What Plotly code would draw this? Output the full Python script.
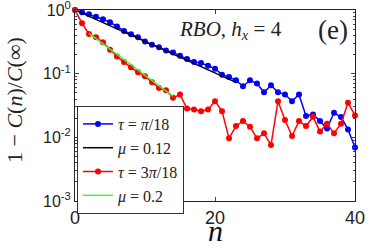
import plotly.graph_objects as go

n = list(range(41))
blue = [1.0, 0.92, 0.855, 0.787, 0.715, 0.642, 0.549, 0.47, 0.417, 0.374,
        0.32, 0.284, 0.261, 0.232, 0.216, 0.191, 0.17, 0.152, 0.147, 0.133,
        0.12, 0.0965, 0.0887, 0.0787, 0.0634, 0.0787, 0.0698, 0.051, 0.0657, 0.051,
        0.047, 0.037, 0.047, 0.0216, 0.0229, 0.018, 0.0137, 0.0243, 0.0208, 0.0133,
        0.0069]
red = [1.0, 0.619, 0.422, 0.374, 0.312, 0.237, 0.187, 0.152, 0.126, 0.105,
       0.0908, 0.0733, 0.0597, 0.055, 0.0417, 0.047, 0.0284, 0.0274, 0.0258, 0.0274,
       0.037, 0.0258, 0.00964, 0.015, 0.018, 0.0147, 0.00964, 0.01155, 0.0076, 0.037,
       0.0187, 0.0105, 0.018, 0.015, 0.021, 0.0123, 0.0164, 0.01155, 0.0164, 0.0348,
       0.0221]
fit1_n = [0, 23]
fit1_v = [1.0, 0.073]
fit2_n = [2, 14]
fit2_v = [0.43, 0.0442]

tick_vals = [1, 0.1, 0.01, 0.001]
tick_text = ["10<sup>0</sup>", "10<sup>-1</sup>", "10<sup>-2</sup>", "10<sup>-3</sup>"]

serif = "Liberation Serif"
sans = "Liberation Sans"

L, R, T, B = 75, 19, 10, 48
W, H = 374, 249
pw, ph = W - L - R, H - T - B


def px_x(p):
    return (p - L) / pw


def px_y(p):
    return (H - B - p) / ph


fig = go.Figure()
fig.add_trace(go.Scatter(x=n, y=blue, mode="lines+markers",
                         line=dict(color="#0000ff", width=1.5),
                         marker=dict(color="#0000ff", size=6),
                         name="<i>τ</i> = <i>π</i>/18", cliponaxis=False))
fig.add_trace(go.Scatter(x=fit1_n, y=fit1_v, mode="lines",
                         line=dict(color="black", width=1.5),
                         name="<i>μ</i> = 0.12"))
fig.add_trace(go.Scatter(x=n, y=red, mode="lines+markers",
                         line=dict(color="#ff0000", width=1.5),
                         marker=dict(color="#ff0000", size=6),
                         name="<i>τ</i> = 3<i>π</i>/18", cliponaxis=False))
fig.add_trace(go.Scatter(x=fit2_n, y=fit2_v, mode="lines",
                         line=dict(color="#33ff33", width=1.5),
                         name="<i>μ</i> = 0.2"))

fig.update_layout(
    width=W, height=H,
    margin=dict(l=L, r=R, t=T, b=B, autoexpand=False),
    paper_bgcolor="white", plot_bgcolor="white",
    showlegend=True,
    legend=dict(x=px_x(77), y=px_y(106), xanchor="left", yanchor="top",
                bgcolor="white", bordercolor="#333", borderwidth=1,
                font=dict(family=serif, size=16, color="#222"),
                tracegroupgap=0, itemwidth=30),
    xaxis=dict(range=[0, 40], tickvals=[0, 20, 40], ticks="inside", ticklen=4,
               showline=True, linecolor="#222", linewidth=1, mirror="allticks",
               showgrid=False, zeroline=False, automargin=False,
               tickfont=dict(family=sans, size=18, color="#222")),
    yaxis=dict(type="log", range=[-3.0005, 0.0005], tickmode="array",
               tickvals=tick_vals, ticktext=tick_text, ticklabeloverflow="allow",
               ticks="inside", ticklen=4,
               minor=dict(ticks="inside", ticklen=2, showgrid=False,
                          tickvals=[k * 10 ** e for e in (-3, -2, -1) for k in range(2, 10)]),
               showline=True, linecolor="#222", linewidth=1, mirror="allticks",
               showgrid=False, zeroline=False, automargin=False,
               tickfont=dict(family=sans, size=16, color="#222")),
    annotations=[
        dict(text="<i>RBO</i>, <i>h<sub>x</sub></i> = 4", x=px_x(230), y=px_y(30),
             xref="paper", yref="paper", xanchor="center", yanchor="middle",
             showarrow=False, font=dict(family=serif, size=21, color="#222")),
        dict(text="(e)", x=px_x(333), y=px_y(30), xref="paper", yref="paper",
             xanchor="center", yanchor="middle",
             showarrow=False, font=dict(family=serif, size=27, color="#222")),
        dict(text="<i>n</i>", x=px_x(215), y=px_y(230), xref="paper", yref="paper",
             xanchor="center", yanchor="middle",
             showarrow=False, font=dict(family=serif, size=30, color="#111")),
        dict(text="1 − <i>C</i>(<i>n</i>)/<i>C</i>(∞)", x=px_x(14), y=px_y(100),
             xref="paper", yref="paper", textangle=-90, xanchor="center", yanchor="middle",
             showarrow=False, font=dict(family=serif, size=22, color="#222")),
    ],
)

fig.write_html("out.html", config={"displayModeBar": False},
               post_script="document.body.style.margin='0';document.body.style.overflow='hidden';")
